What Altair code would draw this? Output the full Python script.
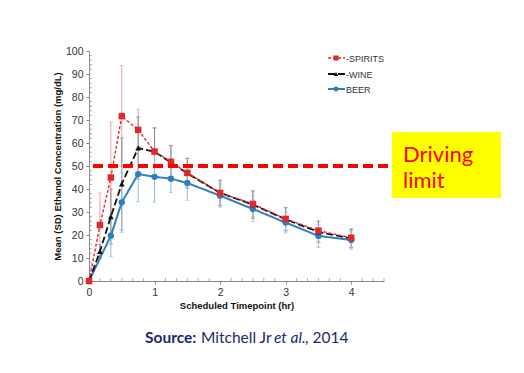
import altair as alt
import pandas as pd

# ---- data ----
times = [0, 1/6, 2/6, 0.5, 0.75, 1.0, 1.25, 1.5, 2.0, 2.5, 3.0, 3.5, 4.0]
spirits_mean = [0, 24.3, 45.0, 71.7, 65.7, 56.3, 51.8, 47.0, 38.3, 33.5, 27.0, 21.9, 18.8]
spirits_sd   = [0, 14.0, 24.0, 22.0, 9.0, 10.0, 7.0, 6.5, 5.5, 5.5, 5.0, 4.5, 4.0]
wine_mean    = [0, 12.8, 28.0, 42.2, 57.8, 56.2, 51.5, 46.8, 38.3, 33.2, 26.8, 21.3, 18.5]
wine_sd      = [0, 3.0, 12.0, 20.0, 13.5, 10.5, 7.5, 6.5, 5.5, 6.0, 5.0, 4.5, 4.0]
beer_mean    = [0, None, 19.7, 34.2, 46.5, 45.3, 44.5, 42.6, 37.1, 31.3, 25.4, 19.6, 17.8]
beer_sd      = [0, None, 9.0, 13.0, 12.0, 11.0, 6.0, 7.5, 5.0, 5.5, 4.5, 5.0, 4.0]

series_names = ["SPIRITS", "WINE", "BEER"]
driving_limit = 50
x_major = [0, 1, 2, 3, 4]
y_major = list(range(0, 101, 10))
x_minor = [i / 6 for i in range(1, 28) if i % 6 != 0]
y_minor = [v for v in range(2, 100, 2) if v % 10 != 0]

rows = []
for name, m, s in [("SPIRITS", spirits_mean, spirits_sd),
                   ("WINE", wine_mean, wine_sd),
                   ("BEER", beer_mean, beer_sd)]:
    for t, mv, sv in zip(times, m, s):
        if mv is None:
            continue
        rows.append({"series": name, "t": t, "mean": mv,
                     "lo": mv - sv, "hi": mv + sv})
df = pd.DataFrame(rows)

style = {
    "SPIRITS": dict(color="#e3262b", err="#eca3a3", dash=[3, 2], sw=1.4, shape="square", size=42),
    "WINE": dict(color="#111111", err="#8c8c8c", dash=[7, 3], sw=1.8, shape="triangle-up", size=34),
    "BEER": dict(color="#2f7fbd", err="#93bfdc", dash=[1, 0], sw=2.0, shape="circle", size=40),
}
axis_grey = "#8a8a8a"

xs = alt.Scale(domain=[0, 4.5], nice=False, zero=False)
ys = alt.Scale(domain=[0, 100], nice=False)

x_axis = alt.Axis(values=x_major, format="d", tickCount=5, labelOverlap=False,
                  title="Scheduled Timepoint (hr)", grid=False, tickSize=3, labelFontSize=10.5,
                  labelFont="Liberation Sans", labelColor="#333333", titleFont="Liberation Sans",
                  titleFontSize=9.5, titleFontWeight="bold", titleColor="#111111", titlePadding=3,
                  domainColor=axis_grey, tickColor=axis_grey, labelPadding=3, labelFlush=False)
y_axis = alt.Axis(values=y_major, format="d", tickCount=11, labelOverlap=False,
                  title="Mean (SD) Ethanol Concentration (mg/dL)", grid=False, tickSize=3,
                  labelFontSize=10.5, labelFont="Liberation Sans", labelColor="#333333",
                  titleFont="Liberation Sans", titleFontSize=9.5, titleFontWeight="bold",
                  titleColor="#111111", titlePadding=3, domainColor=axis_grey, tickColor=axis_grey,
                  labelPadding=3, labelFlush=False)

layers = []
base = alt.Chart(df)

# minor ticks (inside the axes)
xm = pd.DataFrame({"t": x_minor})
layers.append(alt.Chart(xm).mark_tick(color=axis_grey, orient="vertical", size=3, thickness=1).encode(
    x=alt.X("t:Q", scale=xs, axis=x_axis), y=alt.value(228.5)))
ym = pd.DataFrame({"v": y_minor})
layers.append(alt.Chart(ym).mark_tick(color=axis_grey, orient="horizontal", size=3, thickness=1).encode(
    y=alt.Y("v:Q", scale=ys, axis=y_axis), x=alt.value(1.5)))

# error bars
for name in series_names:
    st = style[name]
    sub = base.transform_filter(alt.datum.series == name)
    layers.append(sub.mark_rule(color=st["err"], strokeWidth=1).encode(
        x=alt.X("t:Q", scale=xs, axis=x_axis), y=alt.Y("lo:Q", scale=ys, axis=y_axis), y2="hi:Q"))
    layers.append(sub.mark_tick(color=st["err"], orient="horizontal", size=4, thickness=1).encode(
        x=alt.X("t:Q", scale=xs, axis=x_axis), y=alt.Y("hi:Q", scale=ys, axis=y_axis)))
    layers.append(sub.mark_tick(color=st["err"], orient="horizontal", size=4, thickness=1).encode(
        x=alt.X("t:Q", scale=xs, axis=x_axis), y=alt.Y("lo:Q", scale=ys, axis=y_axis)))
# lines and markers (beer first so spirits/wine on top)
for name in ["BEER", "WINE", "SPIRITS"]:
    st = style[name]
    sub = base.transform_filter(alt.datum.series == name)
    layers.append(sub.mark_line(color=st["color"], strokeWidth=st["sw"], strokeDash=st["dash"]).encode(
        x=alt.X("t:Q", scale=xs, axis=x_axis), y=alt.Y("mean:Q", scale=ys, axis=y_axis)))
    layers.append(sub.mark_point(color=st["color"], filled=True, opacity=1, shape=st["shape"], size=st["size"]).encode(
        x=alt.X("t:Q", scale=xs, axis=x_axis), y=alt.Y("mean:Q", scale=ys, axis=y_axis)))

# driving limit line
limit_df = pd.DataFrame({"y": [driving_limit]})
layers.append(alt.Chart(limit_df).mark_rule(color="#ff0000", strokeWidth=4, strokeDash=[10, 5]).encode(
    y=alt.Y("y:Q", scale=ys, axis=y_axis), x=alt.value(4), x2=alt.value(303)))

# yellow box + text
box_df = pd.DataFrame({"a": [0]})
layers.append(alt.Chart(box_df).mark_rect(color="#ffff00").encode(
    x=alt.value(303), x2=alt.value(412), y=alt.value(81), y2=alt.value(147)))
for txt, yy in [("Driving", 111), ("limit", 137)]:
    layers.append(alt.Chart(pd.DataFrame({"t": [txt]})).mark_text(
        align="left", baseline="alphabetic", font="Lato", fontSize=22, color="#ff0000").encode(
        text="t:N", x=alt.value(314), y=alt.value(yy)))

# legend
leg_y = {"SPIRITS": 7, "WINE": 23, "BEER": 38}
for name in series_names:
    st = style[name]
    d = pd.DataFrame({"n": [name], "label": ["-" + name if name != "BEER" else name]})
    layers.append(alt.Chart(d).mark_rule(color=st["color"], strokeWidth=st["sw"], strokeDash=st["dash"]).encode(
        x=alt.value(239), x2=alt.value(256), y=alt.value(leg_y[name])))
    layers.append(alt.Chart(d).mark_point(color=st["color"], filled=True, opacity=1, shape=st["shape"], size=st["size"] * 0.6).encode(
        x=alt.value(247), y=alt.value(leg_y[name])))
    layers.append(alt.Chart(d).mark_text(align="left", baseline="middle", font="Liberation Sans",
                                         fontSize=9, color="#333333").encode(
        text="label:N", x=alt.value(257), y=alt.value(leg_y[name] + 1)))

# source line
src_parts = [("Source:", 56, "bold", "normal"), ("Mitchell Jr", 112, "normal", "normal"),
             ("et al.", 185, "normal", "italic"), (", 2014", 216, "normal", "normal")]
for txt, xx, fw, fs in src_parts:
    layers.append(alt.Chart(pd.DataFrame({"t": [txt]})).mark_text(
        align="left", baseline="alphabetic", font="Lato", fontSize=15.5, color="#1b2a6b",
        fontWeight=fw, fontStyle=fs).encode(text="t:N", x=alt.value(xx), y=alt.value(292)))

chart = alt.layer(*layers).properties(
    width=295, height=230,
    background="white",
    autosize=alt.AutoSizeParams(type="none"),
    padding={"left": 81, "top": 43, "right": 132, "bottom": 84},
).configure_view(strokeWidth=0, stroke="transparent")

chart.save("out.html", embed_options={"renderer": "svg", "actions": False})
